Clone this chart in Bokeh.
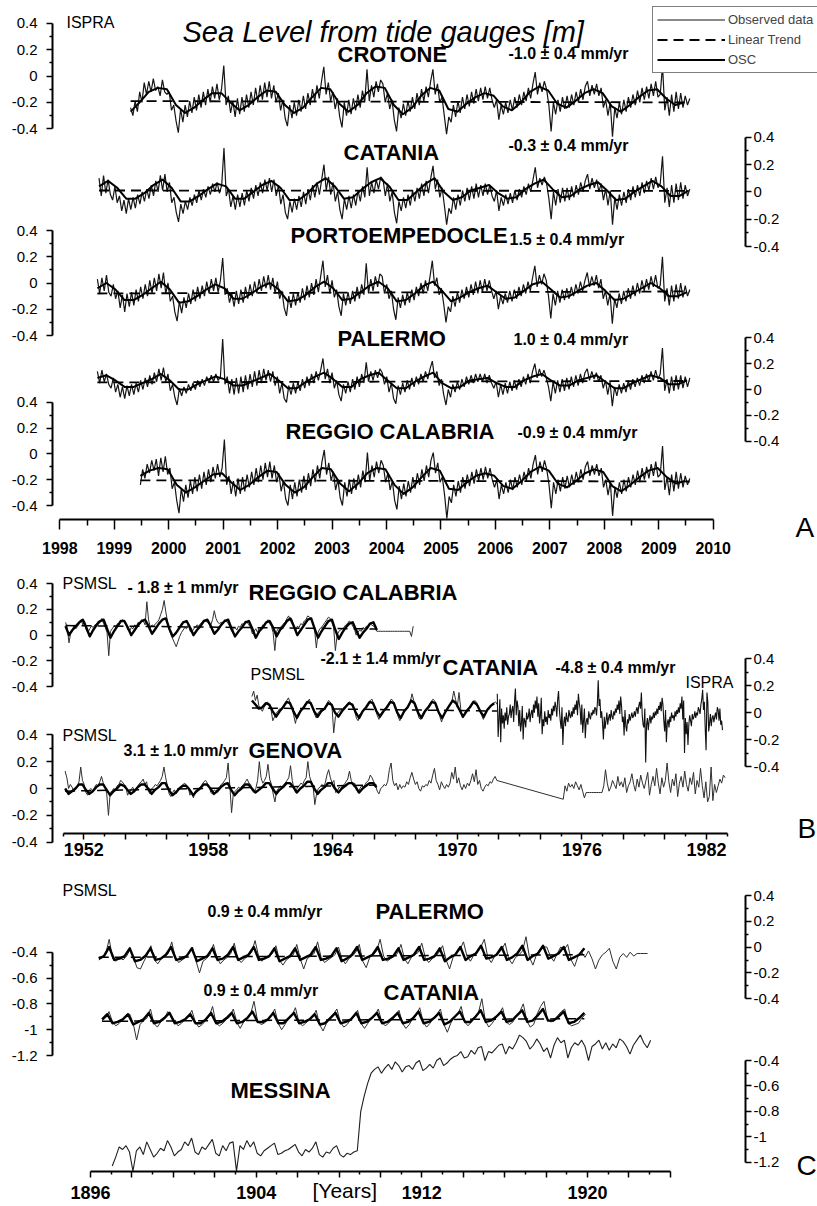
import numpy as np
from bokeh.plotting import figure
from bokeh.models import (Range1d, LinearAxis, FixedTicker, NumeralTickFormatter,
                          CustomJSTickFormatter, Legend, LegendItem)
from bokeh.embed import file_html
from bokeh.resources import INLINE
from bokeh.core.properties import value

# ====================== DATA (sea level in cm) ======================
# ---- Panel A : ISPRA tide gauges, semi-monthly observed, bi-monthly OSC ----
CROTONE_OBS_YEARS = (1999.30, 2009.57)
CROTONE_OBS = [
    -24, -30, -19, -27, -12, -20, -5, -14, -4, -12, -2, -11, -8, -15, -3, -12, -14,
    -12, -26, -22, -34, -43, -25, -35, -22, -31, -19, -28, -16, -26, -14, -24, -12, -22, -10, -20, -8, -17, -6, -18, -10,
    8, -22, -15, -28, -19, -31, -17, -29, -16, -27, -14, -24, -12, -22, -9, -20, -7, -18, -5, -16, -4, -17, -7, -20,
    -13, -26, -18, -32, -38, -22, -32, -20, -30, -18, -27, -15, -25, -13, -22, -10, -19, -7, -17, -4, 7, -14, -5, -19,
    -12, -25, -17, -31, -39, -20, -30, -18, -29, -17, -26, -14, -24, -11, -20, 5, -19, -7, -16, -4, -12, -3, -6, -20,
    -13, -25, -18, -33, -42, -24, -32, -21, -30, -19, -27, -16, -25, -13, -22, -10, -19, -8, -16, -4, 5, -14, -6, -20,
    -16, -30, -44, -31, -35, -22, -31, -19, -28, -16, -25, -14, -23, -12, -21, -10, -19, -9, -18, -8, -17, -9, -18, -24,
    -18, -33, -22, -29, -20, -28, -18, -26, -16, -24, -14, -22, -12, -19, -9, -17, -6, 3, -14, -5, -12, -4, -10, -22,
    -42, -20, -29, -18, -27, -16, -25, -15, -24, -14, -22, -12, -20, -10, -18, -8, -4, -15, -7, -14, -6, -15, -9, -24,
    -18, -30, -20, -46, -24, -32, -20, -29, -18, -27, -16, -24, -14, -22, -11, -20, -9, -18, -8, -17, -6, -15, -4, -16,
    -14, 8, -26, -16, -30, -14, -27, -12, -25, -13, -24, -15, -22, -17]
CROTONE_OSC_YEARS = (1999.30, 2009.47)
CROTONE_OSC = [
    -27, -20, -12, -9, -10,
    -22, -28, -24, -18, -13, -13,
    -20, -26, -22, -16, -11, -12,
    -22, -28, -24, -16, -9, -10,
    -21, -27, -22, -13, -8, -9,
    -22, -29, -24, -15, -9, -11,
    -25, -27, -21, -16, -13, -15,
    -23, -26, -20, -12, -8, -11,
    -21, -24, -19, -13, -10, -13,
    -23, -27, -22, -16, -11, -10,
    -17, -22, -20]
CROTONE_TREND = (-0.190, -0.200)

CATANIA_A_OBS_YEARS = (1998.72, 2009.57)
CATANIA_A_OBS = [
    10, -3, 12, -1, 9, -2, -6,
    4, -8, -3, -14, -6, -16, -5, -13, -4, -12, -2, -9, 0, -7, 2, -5, 5, -3, 8, 0, 12, 1, 13, 0,
    7, -8, -4, -15, -22, -9, -16, -7, -13, -4, -10, -2, -8, 1, -6, 2, -4, 4, -2, 6, 0, 7, -1, 5,
    32, -3, 2, -11, -3, -13, -2, -11, -1, -10, 1, -7, 3, -5, 5, -3, 7, -1, 9, 1, 10, 0, 9, -3,
    5, -9, -2, -15, -20, -7, -15, -5, -13, -3, -11, 0, -9, 2, -6, 5, -4, 7, -2, 9, 20, 1, 11, -2,
    7, -7, 0, -13, -20, -5, -13, -3, -12, -2, -10, 1, -7, 4, -4, 18, -3, 7, -1, 9, 2, 11, 9, -3,
    6, -7, 0, -15, -23, -7, -14, -4, -12, -2, -10, 1, -7, 3, -5, 6, -3, 8, -1, 10, 19, 2, 9, -4,
    3, -10, -24, -12, -16, -4, -13, -2, -10, 1, -7, 3, -6, 4, -5, 6, -4, 5, -3, 6, -2, 5, -3, -7,
    1, -14, -4, -10, -2, -9, -1, -8, 1, -6, 2, -4, 4, -2, 6, 0, 9, 18, 3, 10, 5, 11, 6, -5,
    -20, 0, -10, 2, -8, 3, -7, 3, -6, 4, -4, 5, -2, 7, 0, 8, 13, 2, 10, 3, 9, 0, 6, -6,
    2, -10, 1, -24, -4, -13, -2, -10, 0, -8, 2, -6, 4, -4, 5, -3, 7, -1, 8, 1, 10, 2, 11, 3,
    6, 26, -8, 3, -11, 5, -8, 6, -6, 7, -5, 5, -3, 2]
CATANIA_A_OSC_YEARS = (1998.72, 2009.55)
CATANIA_A_OSC = [
    4, 8,
    3, -5, -5, -1, 5, 9,
    3, -7, -7, -3, 2, 6,
    4, -5, -5, 0, 5, 8,
    3, -6, -6, -1, 6, 10,
    4, -5, -4, 2, 7, 10,
    4, -6, -6, 0, 6, 10,
    0, -6, -4, 1, 3, 5,
    -1, -5, -4, 2, 6, 9,
    2, -4, -3, 2, 5, 7,
    1, -6, -5, 0, 4, 8,
    4, -3, -3, 1]
CATANIA_A_TREND = (0.010, 0.007)

PORTO_OBS_YEARS = (1998.69, 2009.57)
PORTO_OBS = [
    3, -8, 4, -6, 6, -7, -10,
    -1, -12, -6, -19, -9, -22, -8, -18, -7, -17, -5, -14, -3, -12, -1, -10, 2, -8, 4, -6, 7, -4, 8, -8,
    0, -14, -10, -22, -29, -14, -23, -11, -19, -8, -16, -5, -14, -3, -12, -2, -10, 1, -8, 3, -6, 4, -7, 2,
    19, -9, -4, -15, -8, -18, -6, -16, -5, -15, -3, -12, -1, -10, 1, -8, 3, -6, 5, -4, 6, -5, 4, -8,
    1, -12, -6, -19, -25, -10, -19, -8, -17, -7, -15, -4, -13, -2, -11, 0, -9, 3, -7, 5, 17, -3, 6, -8,
    2, -11, -5, -18, -25, -8, -17, -7, -16, -6, -14, -3, -12, -1, -9, 15, -8, 3, -6, 5, -3, 7, 5, -8,
    -1, -12, -6, -20, -28, -11, -19, -9, -17, -7, -15, -5, -13, -3, -10, 0, -8, 2, -6, 5, 17, -2, 4, -9,
    -4, -16, -30, -18, -22, -10, -18, -7, -15, -5, -12, -3, -11, -1, -9, 1, -8, 2, -7, 3, -6, 2, -6, -12,
    -6, -20, -10, -16, -8, -15, -6, -14, -5, -12, -3, -10, -1, -8, 1, -6, 4, 13, -3, 6, -1, 7, 2, -10,
    -27, -8, -17, -6, -15, -5, -13, -4, -12, -3, -10, -1, -8, 1, -6, 2, 8, -3, 5, -2, 6, -4, 3, -12,
    -6, -17, -8, -31, -12, -19, -8, -16, -6, -14, -4, -12, -2, -10, 0, -8, 2, -6, 3, -5, 5, -3, 6, -4,
    -2, 20, -14, -4, -17, -2, -14, -1, -12, 0, -11, -2, -10, -5]
PORTO_OSC_YEARS = (1998.69, 2009.52)
PORTO_OSC = [
    -4, 0,
    -5, -13, -13, -9, -4, 1,
    -5, -15, -14, -10, -5, -1,
    -4, -12, -12, -8, -3, 0,
    -5, -14, -13, -9, -3, 1,
    -4, -13, -12, -7, -2, 1,
    -4, -14, -13, -8, -2, 1,
    -6, -14, -11, -7, -4, -2,
    -7, -12, -11, -6, -1, 1,
    -5, -11, -10, -6, -2, 0,
    -6, -13, -12, -8, -4, 0,
    -4, -10, -10, -7]
PORTO_TREND = (-0.080, -0.064)

PALERMO_A_OBS_YEARS = (1998.69, 2009.57)
PALERMO_A_OBS = [
    14, 5, 15, 6, 12, 4, 1,
    9, -2, 4, -6, 2, -7, 3, -5, 4, -4, 5, -2, 7, 0, 9, 2, 11, 4, 13, 6, 16, 7, 17, 6,
    12, -1, 4, -6, -12, 1, -5, 2, -3, 4, -1, 5, 0, 7, 2, 8, 3, 10, 5, 11, 6, 12, 7, 10,
    39, 4, 10, -3, 8, -4, 9, -3, 10, -2, 11, 0, 12, 2, 14, 3, 15, 5, 16, 7, 15, 6, 14, 3,
    10, -3, 5, -7, -10, 3, -4, 5, -3, 6, -1, 8, 1, 10, 3, 12, 5, 14, 7, 15, 24, 8, 16, 5,
    13, 1, 7, -4, -9, 4, -3, 6, -2, 8, 0, 10, 2, 12, 5, 21, 6, 14, 7, 15, 9, 16, 13, 4,
    10, -2, 5, -7, -11, 3, -4, 5, -2, 7, 0, 9, 2, 10, 4, 12, 6, 14, 8, 16, 22, 9, 14, 3,
    8, -4, -12, 0, -6, 4, -2, 6, 0, 8, 2, 10, 4, 11, 5, 12, 6, 12, 6, 12, 5, 11, 5, 1,
    6, -6, 4, -4, 5, -3, 6, -1, 7, 0, 8, 2, 10, 4, 12, 5, 14, 20, 9, 16, 10, 15, 9, 2,
    -9, 6, -3, 7, -2, 8, -1, 9, 0, 10, 2, 11, 3, 12, 5, 13, 16, 7, 14, 8, 13, 6, 11, 1,
    7, -4, 6, -13, 2, -5, 4, -3, 5, -2, 7, 0, 8, 2, 9, 3, 11, 5, 12, 6, 14, 7, 15, 8,
    12, 32, -1, 8, -3, 10, -1, 11, 0, 11, 1, 10, 2, 9]
PALERMO_A_OSC_YEARS = (1998.69, 2009.52)
PALERMO_A_OSC = [
    9, 11,
    7, 2, 2, 5, 8, 12,
    7, 0, 0, 4, 7, 10,
    8, 3, 3, 6, 9, 12,
    7, 1, 1, 6, 10, 13,
    8, 2, 2, 8, 11, 13,
    7, 1, 1, 6, 10, 13,
    5, 1, 2, 7, 8, 9,
    5, 2, 2, 7, 10, 12,
    7, 3, 3, 7, 9, 11,
    6, 1, 1, 5, 8, 11,
    9, 4, 4, 7]
PALERMO_A_TREND = (0.055, 0.066)

REGGIO_A_OBS_YEARS = (1999.48, 2009.57)
REGGIO_A_OBS = [
    -24, -12, -19, -8, -15, -5, -13, -4, -17, -3, -14, -2, -16,
    -11, -27, -22, -36, -46, -27, -37, -24, -34, -21, -31, -18, -29, -16, -27, -14, -24, -12, -22, -10, -19, -8, -18, -11,
    11, -24, -17, -31, -21, -33, -19, -31, -18, -29, -16, -26, -14, -24, -11, -22, -9, -20, -7, -18, -6, -19, -9, -22,
    -15, -29, -21, -35, -40, -24, -35, -22, -33, -20, -30, -17, -28, -15, -25, -12, -22, -9, -19, -6, 3, -16, -7, -21,
    -14, -28, -20, -34, -40, -22, -33, -20, -31, -19, -28, -16, -26, -13, -22, 1, -21, -9, -18, -6, -15, -5, -9, -22,
    -15, -28, -21, -36, -43, -25, -35, -23, -33, -21, -30, -18, -27, -15, -24, -12, -21, -9, -18, -5, 1, -15, -7, -22,
    -18, -32, -50, -33, -38, -24, -33, -21, -30, -18, -27, -16, -25, -14, -23, -12, -21, -11, -20, -10, -19, -11, -20, -26,
    -20, -35, -24, -31, -22, -30, -20, -28, -18, -26, -16, -24, -14, -21, -11, -19, -8, -1, -16, -6, -14, -5, -12, -24,
    -42, -22, -31, -20, -29, -18, -27, -17, -26, -16, -24, -14, -22, -12, -20, -10, -6, -17, -9, -16, -8, -17, -11, -26,
    -20, -32, -22, -48, -26, -34, -22, -31, -20, -29, -18, -26, -16, -24, -13, -22, -11, -20, -10, -19, -8, -17, -6, -18,
    -16, 6, -28, -18, -32, -16, -29, -14, -27, -15, -26, -17, -24, -19]
REGGIO_A_OSC_YEARS = (1999.48, 2009.48)
REGGIO_A_OSC = [
    -17, -13, -11, -12,
    -24, -30, -26, -21, -16, -15,
    -22, -28, -24, -18, -13, -14,
    -24, -30, -26, -18, -11, -12,
    -23, -29, -23, -15, -11, -12,
    -24, -31, -26, -18, -11, -13,
    -27, -28, -22, -17, -15, -17,
    -25, -27, -21, -14, -10, -13,
    -23, -26, -21, -15, -12, -14,
    -25, -29, -24, -18, -13, -11,
    -18, -23, -21]
REGGIO_A_TREND = (-0.205, -0.214)

# ---- Panel B : PSMSL monthly + ISPRA ----
REGGIO_B_OBS_YEARS = (1951.12, 1967.87)
REGGIO_B_OBS = [
    10, 6, -6, 2, 4, 8, 5, 7, 9, 12, 8,
    11, 4, 2, 5, 7, 6, 8, 9, 11, 10, 13, 9,
    6, 2, -16, 3, 5, 7, 6, 9, 8, 11, 12, 10,
    8, 4, 3, 6, 5, 8, 7, 10, 9, 12, 11, 8,
    26, 12, 6, 8, 7, 9, 10, 12, 16, 20, 27, 18,
    10, 4, 0, -3, -6, -9, -5, -1, 2, 4, 6, 5,
    8, 3, 2, 5, 6, 8, 7, 9, 10, 12, 11, 10,
    9, 8, 12, 19, 13, 10, 9, 10, 9, 12, 11, 9,
    7, 3, 5, 6, 4, 7, 6, 9, 8, 11, 10, 8,
    6, 1, 3, 5, 2, 6, 5, 8, 7, 10, 12, 9,
    7, 2, -12, 3, 5, 6, 7, 9, 10, 13, 15, 11,
    12, 6, 3, 7, 6, 9, 8, 11, 12, 15, 14, 13,
    10, 4, -10, 2, 5, 6, 8, 10, 12, 14, 13, 10,
    6, -12, 0, 3, 4, 5, 6, 8, 9, 11, 10, 7,
    5, 0, 2, 4, 3, 6, 5, 7, 6, 9, 8, 7,
    6, 3, 3, 3, 3, 3, 3, 3, 3, 3, 3, 3,
    3, 3, 3, 3, 3, 3, 3, 3, 3, -1, 7]
REGGIO_B_OSC_YEARS = (1951.12, 1966.12)
REGGIO_B_OSC = [
    7, 0, 4, 7, 10, 12,  6, -1, 4, 8, 11, 12,  5, -2, 3, 7, 11, 11,
    6, 0, 4, 8, 11, 12,  7, 1, 5, 9, 12, 13,  5, -1, 2, 6, 10, 11,
    6, 0, 4, 7, 11, 12,  7, 1, 4, 8, 11, 12,  5, -1, 3, 6, 10, 11,
    5, -2, 3, 6, 10, 11,  6, -1, 4, 7, 11, 13,  7, 0, 4, 8, 12, 13,
    5, -2, 3, 7, 11, 12,  4, -3, 2, 6, 9, 10,  4, -2, 2, 5, 9, 10,
    4]
REGGIO_B_TREND = (0.075, 0.048)

CATANIA_B_OBS_YEARS = (1960.10, 1971.92)
CATANIA_B_OBS = [
    12, 16, 9, 13, 5, 3, 1, 4, 6, 8, 5,
    2, -6, -3, 0, 1, 3, 2, 5, 6, 9, 11, 7,
    4, -2, -8, -2, 0, 2, 3, 5, 7, 8, 10, 6,
    3, -1, -4, 0, 1, 3, 2, 4, 6, 9, 8, 5,
    -15, -3, -1, 1, 2, 3, 4, 5, 7, 8, 7, 4,
    2, -4, -6, -1, 0, 2, 3, 4, 6, 9, 10, 6,
    3, -2, -5, -1, 1, 2, 3, 5, 7, 10, 9, 5,
    2, -3, -6, -2, 0, 2, 4, 5, 8, 14, 9, 4,
    1, -4, -5, -1, 1, 3, 4, 6, 8, 10, 9, 5,
    2, -3, -7, -2, 0, 2, 4, 6, 9, 16, 10, 4,
    15, 3, -4, -1, 1, 3, 4, 6, 7, 9, 8, 5,
    2, -2, -5, -1, 2, 4, 5, 6, 7, 8, 6]
CATANIA_B_OSC_YEARS = (1960.10, 1971.77)
CATANIA_B_OSC = [
    9, 6, 3, 4, 7, 6,  1, -3, 1, 4, 8, 7,  1, -4, 1, 4, 8, 7,  1, -3, 1, 3, 7, 6,
    0, -3, 1, 4, 7, 6,  0, -4, 1, 4, 8, 7,  1, -3, 1, 4, 8, 7,  0, -4, 1, 4, 9, 7,
    0, -4, 1, 4, 8, 7,  0, -4, 1, 5, 9, 7,  2, -3, 1, 4, 8, 6,  1, -3, 2, 5, 7]
CATANIA_B_TREND = (0.035, 0.012)

CATANIA_ISPRA_YEARS = (1971.92, 1982.77)
CATANIA_ISPRA = [
    14, -18,
    -5, 10, -22, 3, -8, -2, -12, 0, -6, 4, -9, -3, -1, 6, -4, 2, 5, -7, 8, 18, -2, 9, 4, -10,
    2, -14, -8, 5, -20, -4, -6, -11, 0, -5, -3, 3, -7, -1, 2, -4, 6, 0, 9, 3, 12, -3, 7, -8,
    -2, 11, -16, -5, -10, 1, -7, -3, -9, 2, -4, -1, -6, 3, -2, 5, 1, 8, 4, -3, 10, 16, 2, -6,
    -12, 4, -24, -8, -3, -10, 0, -5, -7, 2, -2, -4, 1, -3, 4, -1, 6, 2, 9, -2, 14, 7, 3, -9,
    6, -15, -6, 3, -19, -7, -4, -9, 1, -3, -5, 0, -2, 2, -1, 4, 3, -2, 7, 24, 5, 10, -4, 1,
    -8, -20, -3, -12, -6, 0, -9, -4, -1, -6, 2, -3, -5, 1, -2, 3, 0, 6, 2, 9, -1, 12, 5, -7,
    -3, -17, 2, -10, -14, -5, -8, -1, -6, -3, 0, -4, -2, 1, -3, 2, 4, -1, 5, 8, 3, 15, -2, -9,
    -11, 3, -37, -9, -4, -13, -6, -2, -8, -3, -5, 0, -4, 1, -2, 3, -1, 5, 2, 8, 1, 11, 6, -6,
    -14, 2, -22, -8, -5, -11, -3, -7, 0, -4, -2, -6, 1, -3, 2, -1, 4, 0, 7, 3, 12, -5, 9, -30,
    -4, -16, -7, -24, -9, -2, -6, -10, -1, -5, -3, 1, -4, 0, -2, 4, 2, -1, 6, 10, 17, 2, 8, -12,
    -28, 15, 8, -14, -8, -1, -10, -4, -2, -7, -3, 0, -5, 4, 2, -6, 3, -9, -6, -13]

GENOVA_OBS1_YEARS = (1951.10, 1971.90)
GENOVA_OBS1 = [
    13, 8, 0, 3, 1, -2, 0, 2, 5, 16, 6,
    3, -3, -5, -1, 0, -2, 1, 3, 2, 5, 9, 4,
    1, -4, -20, -3, -2, 0, -1, 2, 3, 6, 5, 3,
    2, -5, -3, -1, 1, -2, 0, 2, 4, 5, 7, 3,
    5, -2, -4, 0, 1, 3, 2, 4, 6, 9, 16, 8,
    2, -4, -6, -3, -1, -4, -2, 0, 1, 3, 4, 2,
    1, -5, -3, -7, -2, -1, 0, 1, 3, 5, 6, 4,
    2, -3, -4, -1, -2, 0, 1, 3, 4, 6, 8, 19,
    2, -18, -4, -2, -1, 1, 0, 2, 3, 5, 7, 4,
    3, -2, -3, 0, 6, 20, 8, 4, 6, 9, 18, 7,
    3, -4, -10, -2, 0, 2, 1, 3, 4, 6, 8, 17,
    6, 0, -3, 1, 2, 4, 3, 6, 8, 20, 9, 5,
    2, -12, -4, 0, 1, 3, 2, 4, 10, 14, 8, 4,
    6, -3, -2, 1, 0, 2, 3, 5, 7, 13, 6, 3,
    4, -1, -3, 0, 2, 1, 3, 5, 6, 10, 8, 5,
    3, -2, -4, 0, 1, 3, 2, 5, 14, 19, 6, 2,
    4, -1, 3, 0, 2, 1, 5, 3, 8, 12, 7, 3,
    5, 0, -2, 2, 1, 3, 2, 6, 4, 10, 15, 6,
    3, -1, 5, 2, 0, 3, 1, 4, 12, 7, 16, 4,
    8, 2, -1, 3, 0, 4, 2, 6, 11, 5, 14, 3,
    6, 0, -2, 1, 3, 2, 5, 4, 7, 9, 6]
GENOVA_OBS2_YEARS = (1975.10, 1982.90)
GENOVA_OBS2 = [
    -8, 2, -2, 4, 1, 3, 0, 5, 2, -1, 3,
    -2, -7, -3, -3, -3, -3, -3, -3, -3, -3, -3, -3,
    2, 14, 4, -2, 1, 6, 3, 0, 9, 2, 5, 1,
    8, -3, 2, 5, 11, 3, -2, 7, 1, 10, 4, 0,
    6, 12, -5, 3, 9, 2, 15, 4, -4, 8, 1, 6,
    19, 5, -3, 7, 2, 11, -6, 4, 9, 1, 13, 3,
    -2, 8, 3, 12, -4, 6, 1, 15, 2, -7, 5, -10,
    -6, 16, -9, 3, -3, 2, 7, 4, 10, 8]
GENOVA_OSC_YEARS = (1951.10, 1966.10)
GENOVA_OSC = [
    0, -4, -2, 0, 3, 3,  -1, -4, -2, 1, 3, 3,  -1, -5, -2, 0, 3, 2,
    -1, -4, -2, 1, 3, 3,  0, -4, -1, 1, 4, 4,  -1, -5, -3, 0, 2, 2,
    -1, -5, -2, 0, 3, 3,  0, -4, -2, 1, 3, 4,  -1, -5, -2, 0, 3, 3,
    0, -3, -1, 1, 4, 4,  0, -4, -1, 1, 4, 4,  1, -3, 0, 2, 5, 5,
    0, -4, -1, 1, 4, 4,  0, -3, 0, 2, 4, 4,  1, -3, 0, 2, 4, 4,
    1]
GENOVA_TREND = (-0.020, 0.026)

# ---- Panel C : PSMSL early records ----
PALERMO_C_OBS_YEARS = (1896.40, 1922.90)
PALERMO_C_OBS = [
    -46, -44, -41, -30, -45, -47,  -44, -46, -43, -38, -44, -52,  -53, -47, -42, -35, -46, -49,
    -45, -43, -41, -32, -44, -48,  -46, -44, -40, -36, -47, -56,  -47, -45, -42, -34, -44, -49,
    -46, -44, -41, -33, -45, -48,  -45, -43, -40, -31, -43, -47,  -44, -43, -41, -35, -46, -50,
    -46, -44, -42, -34, -45, -53,  -45, -43, -41, -32, -44, -48,  -46, -44, -42, -36, -45, -49,
    -45, -43, -40, -34, -47, -52,  -44, -42, -39, -30, -43, -47,  -45, -43, -41, -34, -45, -49,
    -44, -42, -40, -33, -44, -48,  -45, -43, -40, -35, -46, -53,  -44, -40, -38, -32, -43, -47,
    -42, -39, -36, -30, -44, -48,  -43, -41, -38, -33, -45, -49,  -44, -42, -39, -28, -44, -50,
    -42, -38, -36, -36, -43, -47,  -41, -36, -38, -34, -46, -51,  -43, -40, -44, -39, -45, -53,
    -46, -42, -40, -37, -47, -53,  -44, -41, -44, -40, -43, -41,  -41, -41, -41]
PALERMO_C_OSC_YEARS = (1896.40, 1919.85)
PALERMO_C_OSC = [
    -45, -43, -36, -46,  -45, -43, -37, -47,  -46, -43, -37, -46,  -45, -42, -36, -46,
    -45, -43, -37, -47,  -45, -43, -37, -46,  -45, -42, -36, -46,  -44, -42, -36, -46,
    -45, -43, -37, -47,  -45, -43, -37, -46,  -44, -42, -36, -46,  -45, -43, -37, -47,
    -45, -42, -36, -46,  -44, -42, -36, -46,  -45, -43, -37, -46,  -44, -42, -36, -46,
    -45, -43, -37, -47,  -44, -42, -36, -46,  -43, -41, -35, -45,  -44, -42, -36, -46,
    -44, -41, -35, -46,  -43, -41, -35, -45,  -43, -41, -36, -46,  -44, -42, -37]
PALERMO_C_TREND = (-0.440, -0.420)

CATANIA_C_OBS_YEARS = (1896.56, 1919.90)
CATANIA_C_OBS = [
    -93, -91, -86, -94, -97, -95,  -92, -90, -88, -95, -108, -96,  -93, -91, -84, -95, -98, -94,
    -92, -86, -89, -93, -97, -95,  -92, -90, -85, -94, -98, -96,  -93, -90, -82, -95, -97, -95,
    -92, -90, -84, -94, -99, -94,  -91, -88, -78, -93, -96, -95,  -92, -89, -84, -95, -100, -96,
    -91, -89, -83, -94, -97, -95,  -92, -90, -85, -96, -101, -95,  -91, -88, -84, -94, -98, -96,
    -92, -90, -85, -95, -99, -95,  -91, -89, -84, -94, -97, -95,  -92, -89, -85, -95, -99, -96,
    -91, -89, -83, -94, -98, -95,  -91, -88, -84, -96, -102, -95,  -90, -88, -82, -94, -97, -94,
    -90, -87, -76, -93, -98, -95,  -91, -88, -83, -94, -96, -94,  -89, -86, -80, -93, -98, -96,
    -88, -82, -78, -92, -94, -93,  -89, -86, -84, -95, -97, -96,  -95, -91, -88]
CATANIA_C_OSC_YEARS = (1896.56, 1919.85)
CATANIA_C_OSC = [
    -92, -88, -95, -94,  -92, -88, -96, -94,  -92, -87, -95, -94,  -91, -87, -95, -94,
    -92, -88, -95, -95,  -92, -87, -95, -94,  -91, -87, -95, -94,  -91, -86, -94, -94,
    -92, -87, -95, -95,  -91, -87, -95, -94,  -92, -88, -96, -95,  -91, -87, -95, -94,
    -92, -87, -95, -94,  -91, -87, -95, -94,  -91, -87, -95, -94,  -91, -86, -95, -94,
    -91, -87, -96, -94,  -90, -86, -94, -94,  -90, -85, -94, -93,  -90, -86, -94, -93,
    -89, -85, -94, -93,  -89, -84, -93, -93,  -90, -86, -95, -94,  -91, -87]
CATANIA_C_TREND = (-0.935, -0.915)

MESSINA_C_OBS_YEARS = (1897.05, 1923.05)
MESSINA_C_OBS = [
    -123, -116, -108, -110, -107, -112,  -127, -111, -108, -114, -104, -110,
    -116, -113, -109, -111, -103, -108,  -115, -112, -110, -104, -107, -101,
    -112, -114, -108, -110, -106, -102,  -113, -115, -107, -111, -105, -104,
    -127, -107, -110, -103, -108, -104,  -113, -115, -111, -109, -107, -105,
    -114, -113, -111, -110, -108, -106,  -112, -115, -110, -112, -109, -104,
    -114, -116, -112, -113, -109, -107,  -114, -116, -113, -114, -112, -111,
    -80, -68, -58, -50, -47, -45,  -50, -46, -43, -47, -41, -44,
    -49, -45, -44, -47, -42, -40,  -48, -46, -43, -46, -40, -38,
    -44, -42, -39, -37, -36, -33,  -38, -37, -32, -35, -30, -29,
    -40, -33, -34, -31, -28, -27,  -35, -29, -31, -26, -20, -22,
    -25, -31, -28, -23, -27, -33,  -30, -38, -28, -22, -26, -24,
    -38, -30, -26, -28, -24, -29,  -40, -29, -27, -24, -31, -26,
    -32, -27, -30, -23, -25, -29,  -35, -28, -24, -20, -26, -30,
    -24]

# ---- axis ticks / labels ----
TICKS_PM = [-0.4, -0.2, 0.0, 0.2, 0.4]
MINOR_PM = [-0.3, -0.1, 0.1, 0.3]
TICKS_LOW = [-1.2, -1.0, -0.8, -0.6, -0.4]
MINOR_LOW = [-1.1, -0.9, -0.7, -0.5]
A_YEARS = list(range(1998, 2011))
A_HALF_YEARS = [y + 0.5 for y in range(1998, 2010)]
B_LABEL_YEARS = [1952, 1958, 1964, 1970, 1976, 1982]
C_LABEL_YEARS = [1896, 1904, 1912, 1920]

# ====================== LAYOUT ======================
FONT = "Liberation Sans"
W, H = 817, 1206
OX, OY = 0, 0   # plot coordinates below are page pixels

p = figure(width=W, height=H, output_backend="svg", toolbar_location=None,
           x_range=Range1d(OX, OX + W), y_range=Range1d(OY + H, OY),
           x_axis_location=None, y_axis_location=None, min_border=0,
           outline_line_color=None, background_fill_color="white",
           border_fill_color="white")
for g in p.grid:
    g.visible = False


def year_range(y_a, px_a, y_b, px_b):
    s = (px_b - px_a) / (y_b - y_a)
    return Range1d(y_a + (OX - px_a) / s, y_a + (OX + W - px_a) / s)


def value_range(v_top, py_top, v_bot, py_bot):
    s = (py_bot - py_top) / (v_top - v_bot)
    return Range1d(v_top - (OY + H - py_top) / s, v_top + (py_top - OY) / s)


p.extra_x_ranges = {
    "A": year_range(1998, 59.3, 2010, 712.7),
    "B": year_range(1952, 83.3, 1982, 706.0),
    "C": year_range(1896, 90.0, 1920, 587.0),
}

Y_AXES = {
    # name: (side, x position, top value, top px, bottom value, bottom px)
    "A_crot": ("left", 52, 0.4, 22.7, -0.4, 128.3),
    "A_cat": ("right", 745, 0.4, 136.7, -0.4, 246.0),
    "A_porto": ("left", 52, 0.4, 230.0, -0.4, 335.0),
    "A_pal": ("right", 745, 0.4, 337.3, -0.4, 440.7),
    "A_reg": ("left", 52, 0.4, 401.7, -0.4, 505.0),
    "B_reg": ("left", 52, 0.4, 583.3, -0.4, 686.0),
    "B_cat": ("right", 745, 0.4, 658.3, -0.4, 766.0),
    "B_gen": ("left", 52, 0.4, 734.3, -0.4, 841.7),
    "C_left": ("left", 52, -0.4, 951.7, -1.2, 1055.0),
    "C_r1": ("right", 745, 0.4, 895.0, -0.4, 998.3),
    "C_r2": ("right", 745, -0.4, 1060.0, -1.2, 1161.7),
}
p.extra_y_ranges = {k: value_range(v[2], v[3], v[4], v[5]) for k, v in Y_AXES.items()}

for name, (side, xloc, vt, pt, vb, pb) in Y_AXES.items():
    low = vt < 0.3
    ticks = TICKS_LOW if low else TICKS_PM
    minor = MINOR_LOW if low else MINOR_PM
    ax = LinearAxis(y_range_name=name, fixed_location=xloc, bounds=(min(ticks), max(ticks)),
                    ticker=FixedTicker(ticks=ticks, minor_ticks=minor),
                    formatter=NumeralTickFormatter(format="0.[0]"),
                    axis_line_width=2, axis_line_color="black",
                    major_tick_line_width=1.5, minor_tick_line_width=1.5,
                    major_tick_out=6, major_tick_in=0, minor_tick_out=3, minor_tick_in=0,
                    major_label_standoff=(9 if side == "left" else 2),
                    major_label_text_font=FONT, major_label_text_font_size="15px",
                    major_label_text_color="black")
    p.add_layout(ax, side)


def add_x_axis(rname, yloc, lo, hi, majors, minors, labels, size, standoff, tick_out):
    if labels is None:
        fmt = NumeralTickFormatter(format="0")
    else:
        fmt = CustomJSTickFormatter(args=dict(labels=labels),
                                    code="return labels.includes(tick) ? tick.toFixed(0) : '';")
    ax = LinearAxis(x_range_name=rname, fixed_location=yloc, bounds=(lo, hi),
                    ticker=FixedTicker(ticks=majors, minor_ticks=minors), formatter=fmt,
                    axis_line_width=2, axis_line_color="black",
                    major_tick_line_width=1.5, minor_tick_line_width=1.5,
                    major_tick_out=tick_out, major_tick_in=0,
                    minor_tick_out=max(3, tick_out - 4), minor_tick_in=0,
                    major_label_standoff=standoff,
                    major_label_text_font=FONT, major_label_text_font_size=size,
                    major_label_text_font_style="bold", major_label_text_color="black")
    p.add_layout(ax, "below")


add_x_axis("A", 519, 1998, 2010, A_YEARS, A_HALF_YEARS, None, "16px", 12, 10)
add_x_axis("B", 833, 1951, 1983, list(range(1952, 1983, 2)), list(range(1951, 1984, 2)),
           B_LABEL_YEARS, "18px", 3, 6)
add_x_axis("C", 1171, 1896, 1924, list(range(1896, 1925, 2)), list(range(1897, 1924, 2)),
           C_LABEL_YEARS, "18px", 8, 6)


def obs_line(xr, yr, years, vals, color="#151515", width=1.2):
    t = np.linspace(years[0], years[1], len(vals))
    return p.line(t, np.asarray(vals) / 100.0, x_range_name=xr, y_range_name=yr,
                  line_color=color, line_width=width)


def osc_line(xr, yr, years, vals, width=2.0):
    t = np.linspace(years[0], years[1], len(vals))
    return p.line(t, np.asarray(vals) / 100.0, x_range_name=xr, y_range_name=yr,
                  line_color="black", line_width=width, line_join="round")


def trend_line(xr, yr, years, trend, width=1.8):
    return p.line(list(years), list(trend), x_range_name=xr, y_range_name=yr,
                  line_color="black", line_width=width, line_dash="10 6")


# ---- panel A ----
r_obs = obs_line("A", "A_crot", CROTONE_OBS_YEARS, CROTONE_OBS)
r_tr = trend_line("A", "A_crot", CROTONE_OBS_YEARS, CROTONE_TREND)
r_osc = osc_line("A", "A_crot", CROTONE_OSC_YEARS, CROTONE_OSC)
for yr, oy, ov, sy, sv, tr in [
        ("A_cat", CATANIA_A_OBS_YEARS, CATANIA_A_OBS, CATANIA_A_OSC_YEARS, CATANIA_A_OSC, CATANIA_A_TREND),
        ("A_porto", PORTO_OBS_YEARS, PORTO_OBS, PORTO_OSC_YEARS, PORTO_OSC, PORTO_TREND),
        ("A_pal", PALERMO_A_OBS_YEARS, PALERMO_A_OBS, PALERMO_A_OSC_YEARS, PALERMO_A_OSC, PALERMO_A_TREND),
        ("A_reg", REGGIO_A_OBS_YEARS, REGGIO_A_OBS, REGGIO_A_OSC_YEARS, REGGIO_A_OSC, REGGIO_A_TREND)]:
    obs_line("A", yr, oy, ov)
    trend_line("A", yr, oy, tr)
    osc_line("A", yr, sy, sv)

# ---- panel B ----
obs_line("B", "B_reg", REGGIO_B_OBS_YEARS, REGGIO_B_OBS, "#303030", 1.0)
trend_line("B", "B_reg", REGGIO_B_OSC_YEARS, REGGIO_B_TREND, 1.5)
osc_line("B", "B_reg", REGGIO_B_OSC_YEARS, REGGIO_B_OSC, 2.4)
obs_line("B", "B_cat", CATANIA_B_OBS_YEARS, CATANIA_B_OBS, "#303030", 1.0)
trend_line("B", "B_cat", CATANIA_B_OBS_YEARS, CATANIA_B_TREND, 1.5)
osc_line("B", "B_cat", CATANIA_B_OSC_YEARS, CATANIA_B_OSC, 2.4)
obs_line("B", "B_cat", CATANIA_ISPRA_YEARS, CATANIA_ISPRA, "#111111", 1.1)
g1 = np.linspace(GENOVA_OBS1_YEARS[0], GENOVA_OBS1_YEARS[1], len(GENOVA_OBS1))
g2 = np.linspace(GENOVA_OBS2_YEARS[0], GENOVA_OBS2_YEARS[1], len(GENOVA_OBS2))
p.line(np.concatenate([g1, g2]), np.asarray(GENOVA_OBS1 + GENOVA_OBS2) / 100.0,
       x_range_name="B", y_range_name="B_gen", line_color="#303030", line_width=1.0)
trend_line("B", "B_gen", GENOVA_OSC_YEARS, GENOVA_TREND, 1.5)
osc_line("B", "B_gen", GENOVA_OSC_YEARS, GENOVA_OSC, 2.4)

# ---- panel C ----
obs_line("C", "C_left", PALERMO_C_OBS_YEARS, PALERMO_C_OBS, "#303030", 1.0)
trend_line("C", "C_left", PALERMO_C_OSC_YEARS, PALERMO_C_TREND, 1.5)
osc_line("C", "C_left", PALERMO_C_OSC_YEARS, PALERMO_C_OSC, 2.4)
obs_line("C", "C_left", CATANIA_C_OBS_YEARS, CATANIA_C_OBS, "#303030", 1.0)
trend_line("C", "C_left", CATANIA_C_OSC_YEARS, CATANIA_C_TREND, 1.5)
osc_line("C", "C_left", CATANIA_C_OSC_YEARS, CATANIA_C_OSC, 2.4)
obs_line("C", "C_r2", MESSINA_C_OBS_YEARS, MESSINA_C_OBS, "#202020", 1.1)

# ---- texts (page-pixel positions) ----
def texts(items, size, style="normal"):
    p.text(x=[i[0] for i in items], y=[i[1] for i in items], text=[i[2] for i in items],
           text_font=value(FONT), text_font_size=size, text_font_style=style,
           text_color="black", text_baseline="middle", text_align="left")


texts([(182, 31, "Sea Level from tide gauges [m]")], "29px", "italic")
texts([(337, 54, "CROTONE"), (343, 152, "CATANIA"), (290, 235, "PORTOEMPEDOCLE"),
       (337, 338, "PALERMO"), (285, 431, "REGGIO CALABRIA"),
       (248, 592, "REGGIO CALABRIA"), (442, 667, "CATANIA"), (248, 750, "GENOVA"),
       (375, 911, "PALERMO"), (383, 992, "CATANIA"), (230, 1090, "MESSINA")], "22px", "bold")
texts([(508, 53, "-1.0 \u00b1 0.4 mm/yr"), (508, 145, "-0.3 \u00b1 0.4 mm/yr"),
       (509, 239, "1.5 \u00b1 0.4 mm/yr"), (513, 339, "1.0 \u00b1 0.4 mm/yr"),
       (517, 432, "-0.9 \u00b1 0.4 mm/yr"),
       (127, 587, "- 1.8 \u00b1 1 mm/yr"), (320, 658, "-2.1 \u00b1 1.4 mm/yr"),
       (555, 667, "-4.8 \u00b1 0.4 mm/yr"), (123, 750, "3.1 \u00b1 1.0 mm/yr"),
       (207, 911, "0.9 \u00b1 0.4 mm/yr"), (203, 990, "0.9 \u00b1 0.4 mm/yr")], "16px", "bold")
texts([(66, 22, "ISPRA"), (62, 583, "PSMSL"), (250, 674, "PSMSL"), (685, 682, "ISPRA"),
       (62, 735, "PSMSL"), (62, 890, "PSMSL")], "16px")
texts([(312, 1190, "[Years]")], "21px")
texts([(795, 527, "A"), (797, 828, "B"), (796, 1165, "C")], "28px")

# ---- legend ----
legend = Legend(items=[LegendItem(label="Observed data", renderers=[r_obs]),
                       LegendItem(label="Linear Trend", renderers=[r_tr]),
                       LegendItem(label="OSC", renderers=[r_osc])],
                location=(652, H - 8 - 65), glyph_width=68, glyph_height=17, label_height=17,
                spacing=3, padding=4, margin=0, label_standoff=3, label_width=95,
                label_text_font=FONT, label_text_font_size="13px",
                border_line_color="black", border_line_width=1.5,
                background_fill_color="white", background_fill_alpha=1.0)
p.add_layout(legend)

open("out.html", "w").write(file_html(p, INLINE))
